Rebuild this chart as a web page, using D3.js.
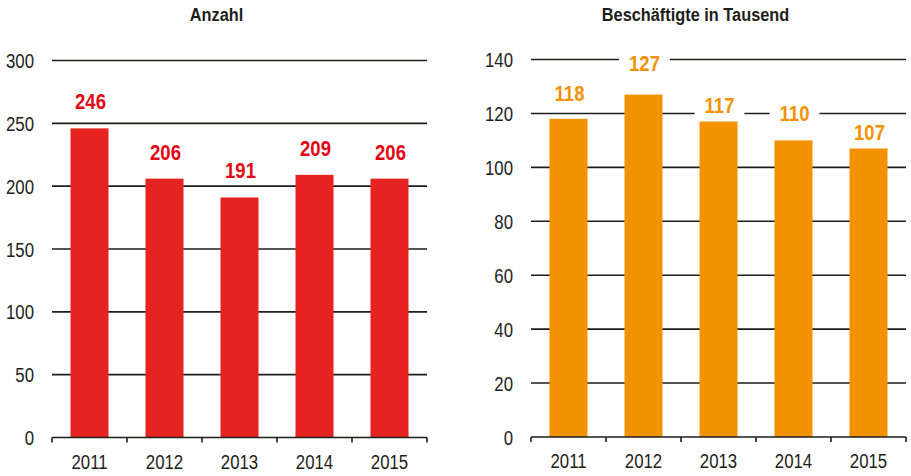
<!DOCTYPE html>
<html>
<head>
<meta charset="utf-8">
<script src="https://cdn.jsdelivr.net/npm/d3@7"></script>
<style>
  html, body { margin: 0; padding: 0; background: #fff; }
  svg { display: block; }
  text { font-family: "Liberation Sans", Arial, sans-serif; }
</style>
</head>
<body>
<svg id="chart" width="911" height="476"></svg>
<script>
// ---- data ----
const years = ["2011", "2012", "2013", "2014", "2015"];
const anzahl = [246, 206, 191, 209, 206];
const beschaeftigte = [118, 127, 117, 110, 107];
const anzahlTicks = [0, 50, 100, 150, 200, 250, 300];
const beschTicks = [0, 20, 40, 60, 80, 100, 120, 140];
const titles = ["Anzahl", "Beschäftigte in Tausend"];

// ---- layout / style (not data) ----
const panels = [
  { title: titles[0], values: anzahl, ticks: anzahlTicks, max: 300,
    x0: 52, x1: 427, yTop: 60.5, yBottom: 437.5,
    barColor: "#e52421", labelColor: "#e30613",
    labelGap: [19, 19, 19, 19, 19] },
  { title: titles[1], values: beschaeftigte, ticks: beschTicks, max: 140,
    x0: 531, x1: 906, yTop: 59.5, yBottom: 437,
    barColor: "#f39200", labelColor: "#f39200",
    labelGap: [18, 24, 9, 19, 8] }
];
const ink = "#1d1d1b";
const SX_REG = 0.8, SX_BOLD = 0.86;

const svg = d3.select("#chart");

// condensed text helper
function ctext(sel, x, y, str, opts) {
  const sx = opts.bold ? SX_BOLD : SX_REG;
  const t = sel.append("text")
    .attr("transform", `translate(${x},${y}) scale(${sx},1)`)
    .attr("text-anchor", opts.anchor || "middle")
    .attr("font-size", opts.size)
    .attr("font-weight", opts.bold ? "bold" : "normal")
    .attr("fill", opts.fill || ink)
    .text(str);
  if (opts.dy) t.attr("dy", opts.dy);
  return t;
}

panels.forEach(p => {
  const g = svg.append("g");
  const x = d3.scaleBand().domain(years).range([p.x0, p.x1]).paddingInner(0.493).paddingOuter(0.2465);
  const y = d3.scaleLinear().domain([0, p.max]).range([p.yBottom, p.yTop]);

  // gridlines
  g.append("g").selectAll("line").data(p.ticks.filter(t => t > 0)).join("line")
    .attr("x1", p.x0).attr("x2", p.x1)
    .attr("y1", d => y(d)).attr("y2", d => y(d))
    .attr("stroke", ink).attr("stroke-width", 1.6);

  // y tick labels
  const yl = g.append("g");
  p.ticks.forEach(d => ctext(yl, p.x0 - 18, y(d), d, { size: 21, anchor: "end", dy: "0.36em" }));

  // bars
  g.append("g").selectAll("rect").data(p.values).join("rect")
    .attr("x", (d, i) => x(years[i]))
    .attr("width", x.bandwidth())
    .attr("y", d => y(d))
    .attr("height", d => y(0) - y(d))
    .attr("fill", p.barColor);

  // x axis
  const ax = g.append("g").attr("transform", `translate(0,${y(0)})`);
  ax.append("line").attr("x1", p.x0).attr("x2", p.x1).attr("y1", 0).attr("y2", 0)
    .attr("stroke", ink).attr("stroke-width", 1.6);
  const bounds = d3.range(years.length + 1).map(i => p.x0 + i * x.step());
  ax.selectAll("line.tk").data(bounds).join("line").attr("class", "tk")
    .attr("x1", d => d).attr("x2", d => d).attr("y1", 0).attr("y2", 5)
    .attr("stroke", ink).attr("stroke-width", 1.6);
  years.forEach(d => ctext(ax, x(d) + x.bandwidth() / 2, 31, d, { size: 21 }));

  // value labels with white knockout
  p.values.forEach((d, i) => {
    const gg = g.append("g");
    const cx = x(years[i]) + x.bandwidth() / 2 + 1;
    const by = y(d) - p.labelGap[i];
    const rect = gg.append("rect").attr("fill", "#fff");
    const t = ctext(gg, cx, by, d, { size: 21.5, bold: true, fill: p.labelColor });
    const bb = t.node().getBBox();
    const w = bb.width * SX_BOLD;
    rect.attr("x", cx - w / 2 - 10).attr("width", w + 20)
      .attr("y", by - 18).attr("height", 22);
  });

  // title
  ctext(g, (p.x0 - 46 + p.x1) / 2, 21, p.title, { size: 19, bold: true });
});
</script>
</body>
</html>
